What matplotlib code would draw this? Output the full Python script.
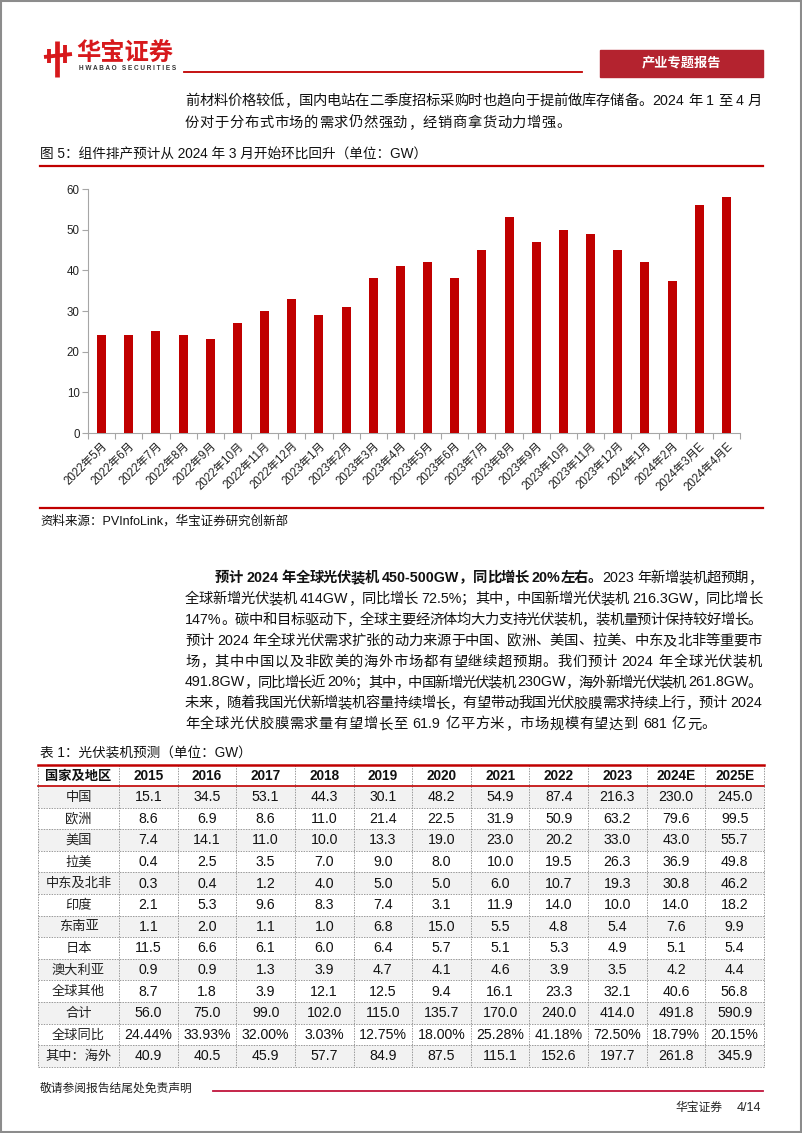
import matplotlib
matplotlib.use("Agg")
import matplotlib.pyplot as plt
from matplotlib import font_manager
from matplotlib.patches import Rectangle
from matplotlib.lines import Line2D

# ---------------- data ----------------
months = ['2022年5月', '2022年6月', '2022年7月', '2022年8月', '2022年9月', '2022年10月',
          '2022年11月', '2022年12月', '2023年1月', '2023年2月', '2023年3月', '2023年4月',
          '2023年5月', '2023年6月', '2023年7月', '2023年8月', '2023年9月', '2023年10月',
          '2023年11月', '2023年12月', '2024年1月', '2024年2月', '2024年3月E', '2024年4月E']
production = [24, 24, 25, 24, 23, 27, 30, 33, 29, 31, 38, 41,
              42, 38, 45, 53, 47, 50, 49, 45, 42, 37.3, 56, 58]
yticks = [0, 10, 20, 30, 40, 50, 60]

table_header = ['国家及地区', '2015', '2016', '2017', '2018', '2019', '2020',
                '2021', '2022', '2023', '2024E', '2025E']
regions = ['中国', '欧洲', '美国', '拉美', '中东及北非', '印度', '东南亚', '日本',
           '澳大利亚', '全球其他', '合计', '全球同比', '其中：海外']
china = [15.1, 34.5, 53.1, 44.3, 30.1, 48.2, 54.9, 87.4, 216.3, 230.0, 245.0]
europe = [8.6, 6.9, 8.6, 11.0, 21.4, 22.5, 31.9, 50.9, 63.2, 79.6, 99.5]
usa = [7.4, 14.1, 11.0, 10.0, 13.3, 19.0, 23.0, 20.2, 33.0, 43.0, 55.7]
latam = [0.4, 2.5, 3.5, 7.0, 9.0, 8.0, 10.0, 19.5, 26.3, 36.9, 49.8]
mena = [0.3, 0.4, 1.2, 4.0, 5.0, 5.0, 6.0, 10.7, 19.3, 30.8, 46.2]
india = [2.1, 5.3, 9.6, 8.3, 7.4, 3.1, 11.9, 14.0, 10.0, 14.0, 18.2]
sea = [1.1, 2.0, 1.1, 1.0, 6.8, 15.0, 5.5, 4.8, 5.4, 7.6, 9.9]
japan = [11.5, 6.6, 6.1, 6.0, 6.4, 5.7, 5.1, 5.3, 4.9, 5.1, 5.4]
australia = [0.9, 0.9, 1.3, 3.9, 4.7, 4.1, 4.6, 3.9, 3.5, 4.2, 4.4]
others = [8.7, 1.8, 3.9, 12.1, 12.5, 9.4, 16.1, 23.3, 32.1, 40.6, 56.8]
total = [56.0, 75.0, 99.0, 102.0, 115.0, 135.7, 170.0, 240.0, 414.0, 491.8, 590.9]
yoy_pct = [24.44, 33.93, 32.00, 3.03, 12.75, 18.00, 25.28, 41.18, 72.50, 18.79, 20.15]
overseas = [40.9, 40.5, 45.9, 57.7, 84.9, 87.5, 115.1, 152.6, 197.7, 261.8, 345.9]

para1 = ['前材料价格较低，国内电站在二季度招标采购时也趋向于提前做库存储备。2024 年 1 至 4 月',
         '份对于分布式市场的需求仍然强劲，经销商拿货动力增强。']
para2_bold = '预计 2024 年全球光伏装机 450-500GW，同比增长 20%左右。'
para2 = ['2023 年新增装机超预期，',
         '全球新增光伏装机 414GW，同比增长 72.5%；其中，中国新增光伏装机 216.3GW，同比增长',
         '147%。碳中和目标驱动下，全球主要经济体均大力支持光伏装机，装机量预计保持较好增长。',
         '预计 2024 年全球光伏需求扩张的动力来源于中国、欧洲、美国、拉美、中东及北非等重要市',
         '场，其中中国以及非欧美的海外市场都有望继续超预期。我们预计 2024 年全球光伏装机',
         '491.8GW，同比增长近 20%；其中，中国新增光伏装机 230GW，海外新增光伏装机 261.8GW。',
         '未来，随着我国光伏新增装机容量持续增长，有望带动我国光伏胶膜需求持续上行，预计 2024',
         '年全球光伏胶膜需求量有望增长至 61.9 亿平方米，市场规模有望达到 681 亿元。']

# ---------------- fonts ----------------
avail = {f.name for f in font_manager.fontManager.ttflist}
NUM = 'Liberation Sans Narrow' if 'Liberation Sans Narrow' in avail else 'Liberation Sans'
CJK = 'Noto Sans CJK SC'
FAM = [NUM, CJK, 'DejaVu Sans']
FAM_ARIAL = ['Liberation Sans', CJK, 'DejaVu Sans']
plt.rcParams['font.family'] = FAM

RED = '#C00000'
W, H = 802, 1133
fig = plt.figure(figsize=(W / 100, H / 100), dpi=100)

# overlay axes in pixel coordinates
ov = fig.add_axes([0, 0, 1, 1])
ov.set_xlim(0, W)
ov.set_ylim(H, 0)
ov.axis('off')
ov.set_zorder(0)

# page frame
ov.add_patch(Rectangle((0.8, 0.8), W - 1.6, H - 1.6, fill=False, ec='#8C8C8C', lw=1.5))

# ---------- header ----------
for (x0, y0, x1, y1, lw) in [(57, 41, 57, 77, 3.4), (49, 49, 49, 63, 2.8), (65, 45, 65, 63, 2.8),
                             (44, 57, 72, 54, 2.8)]:
    ov.add_line(Line2D([x0, x1], [y0, y1], color='#D7191C', lw=lw, solid_capstyle='butt'))
ov.text(76, 52.5, '华宝证券', color='#D7191C', fontsize=17.5, fontweight='bold',
        family=[CJK], va='center', ha='left')
ov.text(79, 69, 'H W A B A O   S E C U R I T I E S', color='#333333', fontsize=4.7,
        family=['Liberation Sans'], fontweight='bold', va='center', ha='left')
ov.add_line(Line2D([184, 582], [71.5, 71.5], color=RED, lw=1.3))
ov.add_patch(Rectangle((600, 50), 163, 27, color='#B4232F'))
ov.text(681.5, 63.5, '产业专题报告', color='white', fontsize=9.5, fontweight='bold',
        family=[CJK], va='center', ha='center')

renderer = fig.canvas.get_renderer()


def tokens_of(s):
    toks, buf = [], ''
    for ch in s:
        if ord(ch) < 128 and ch != ' ':
            buf += ch
        else:
            if buf:
                toks.append(buf)
                buf = ''
            toks.append(ch)
    if buf:
        toks.append(buf)
    return toks


def width_px(s, size, weight='normal'):
    t = ov.text(0, 0, s, fontsize=size, fontweight=weight, family=FAM)
    bb = t.get_window_extent(renderer=renderer)
    t.remove()
    return bb.width


def draw_line(segments, x0, x1, y, size=10.5, justify=True):
    items = []
    for s, wgt in segments:
        for tk in tokens_of(s):
            if tk == ' ':
                items.append((' ', wgt, size * 1.389 * 0.28))
            else:
                items.append((tk, wgt, width_px(tk, size, wgt)))
    total_w = sum(i[2] for i in items)
    n = len(items)
    gap = (x1 - x0 - total_w) / (n - 1) if (justify and n > 1) else 0.6
    x = x0
    for tk, wgt, w in items:
        if tk != ' ':
            ov.text(x, y, tk, fontsize=size, fontweight=wgt, family=FAM,
                    va='center', ha='left', color='#111111')
        x += w + gap


TXT_SIZE = 10.3
draw_line([(para1[0], 'normal')], 185, 762, 101, TXT_SIZE, True)
draw_line([(para1[1], 'normal')], 185, 762, 123, TXT_SIZE, False)

# figure caption
ov.text(40, 154, '图 5：组件排产预计从 2024 年 3 月开始环比回升（单位：GW）', fontsize=9.8,
        family=FAM, va='center', ha='left', color='#111111')
ov.add_line(Line2D([40, 763], [166, 166], color=RED, lw=1.6))

# ---------------- bar chart ----------------
left, right = 88 / W, 740 / W
bottom, top = 1 - 433 / H, 1 - 189 / H
ax = fig.add_axes([left, bottom, right - left, top - bottom])
x = list(range(len(months)))
ax.bar(x, production, width=0.33, color=RED, zorder=3)
ax.set_xlim(-0.5, len(months) - 0.5)
ax.set_ylim(0, 60)
ax.set_yticks(yticks)
ax.set_yticklabels([str(v) for v in yticks], fontsize=8.3, family=FAM, color='#222222')
ax.set_xticks(x)
ax.set_xticklabels(months, rotation=45, ha='right', rotation_mode='anchor',
                   fontsize=8.3, family=FAM, color='#222222')
ax.tick_params(axis='x', which='major', length=0, pad=5)
ax.set_xticks([i - 0.5 for i in range(len(months) + 1)], minor=True)
ax.tick_params(axis='x', which='minor', length=4, color='#A6A6A6', width=0.8)
ax.tick_params(axis='y', length=4, color='#A6A6A6', width=0.8, pad=2)
for s in ['top', 'right']:
    ax.spines[s].set_visible(False)
for s in ['left', 'bottom']:
    ax.spines[s].set_color('#A6A6A6')
    ax.spines[s].set_linewidth(0.8)
ax.patch.set_alpha(0)

# source
ov.add_line(Line2D([40, 763], [508, 508], color=RED, lw=1.6))
ov.text(40, 521, '资料来源：PVInfoLink，华宝证券研究创新部', fontsize=9, family=FAM,
        va='center', ha='left', color='#111111')

# paragraph 2
ys = [578 + 20.9 * i for i in range(9)]
draw_line([(para2_bold, 'bold'), (para2[0], 'normal')], 215, 762, ys[0], TXT_SIZE, True)
for i, line in enumerate(para2[1:]):
    last = (i == len(para2) - 2)
    draw_line([(line, 'normal')], 185, 762, ys[i + 1], TXT_SIZE, not last)

# ---------------- table ----------------
ov.text(40, 754, '表 1：光伏装机预测（单位：GW）', fontsize=9.8, family=FAM,
        va='center', ha='left', color='#111111')

rows = [china, europe, usa, latam, mena, india, sea, japan, australia, others, total,
        yoy_pct, overseas]
tx0, tx1 = 38, 764
col0w = 81
ncol = len(table_header) - 1
cw = (tx1 - tx0 - col0w) / ncol
col_edges = [tx0, tx0 + col0w] + [tx0 + col0w + cw * (k + 1) for k in range(ncol)]
hy0, hy1 = 765, 786
rh = 21.6
GRID = '#9A9A9A'

for k, h in enumerate(table_header):
    cx = (col_edges[k] + col_edges[k + 1]) / 2
    if k == 0:
        ov.text(cx, (hy0 + hy1) / 2 + 0.5, h, fontsize=9.5, fontweight='bold', family=[CJK],
                ha='center', va='center', color='#111111')
    else:
        ov.text(cx, (hy0 + hy1) / 2 + 0.5, h, fontsize=9.8, fontweight='bold', family=FAM_ARIAL,
                ha='center', va='center', color='#111111')

for r, (name, vals) in enumerate(zip(regions, rows)):
    y0 = hy1 + rh * r
    if r % 2 == 0:
        ov.add_patch(Rectangle((tx0, y0), tx1 - tx0, rh, color='#F2F2F2', lw=0, zorder=0))
    cy = y0 + rh / 2 + 0.5
    ov.text((col_edges[0] + col_edges[1]) / 2, cy, name, fontsize=9.5, family=[CJK],
            ha='center', va='center', color='#222222')
    for k, v in enumerate(vals):
        cx = (col_edges[k + 1] + col_edges[k + 2]) / 2
        s = f'{v:.2f}%' if name == '全球同比' else f'{v:.1f}'
        ov.text(cx, cy, s, fontsize=10.2, family=FAM, ha='center', va='center', color='#111111')

tb = hy1 + rh * len(regions)
for r in range(1, len(regions) + 1):
    yy = hy1 + rh * r
    ov.add_line(Line2D([tx0, tx1], [yy, yy], color=GRID, lw=0.7, ls=(0, (1.5, 1.2))))
for xx in col_edges:
    ov.add_line(Line2D([xx, xx], [hy0, tb], color=GRID, lw=0.7, ls=(0, (1.5, 1.2))))
ov.add_line(Line2D([tx0, tx1], [hy0, hy0], color=RED, lw=1.8))
ov.add_line(Line2D([tx0, tx1], [hy1, hy1], color=RED, lw=1.2))

# ---------------- footer ----------------
ov.text(40, 1089, '敬请参阅报告结尾处免责声明', fontsize=8.5, family=FAM, va='center',
        ha='left', color='#222222')
ov.add_line(Line2D([213, 763], [1091, 1091], color='#C0143C', lw=1.3))
ov.text(722, 1108, '华宝证券', fontsize=8.5, family=FAM, va='center', ha='right', color='#222222')
ov.text(761, 1108, '4/14', fontsize=9, family=FAM, va='center', ha='right', color='#222222')

fig.savefig('out.png', dpi=100)
